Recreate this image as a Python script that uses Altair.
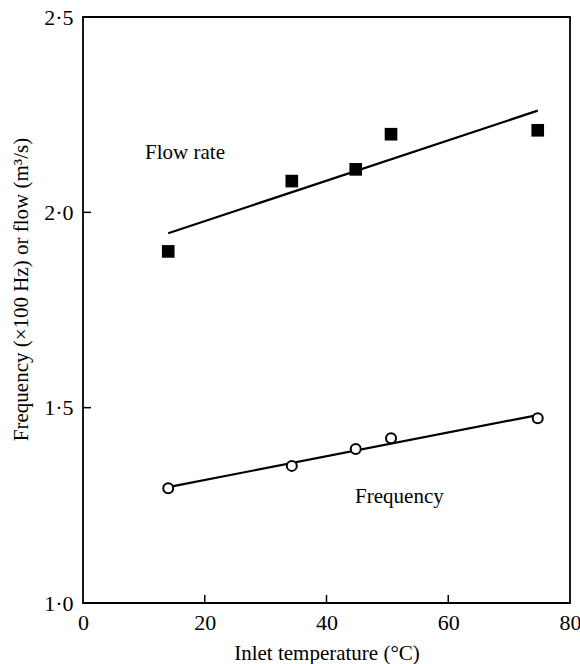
import altair as alt
import pandas as pd

# Data
temperature = [14.0, 34.3, 44.8, 50.6, 74.7]
flow_rate = [1.90, 2.08, 2.11, 2.20, 2.21]
frequency = [1.294, 1.351, 1.394, 1.422, 1.473]

x_ticks = [20, 40, 60]
y_ticks = [1.5, 2.0]

label_names = ["Flow rate", "Frequency"]
label_x = [10.2, 44.7]
label_y = [2.152, 1.271]

FONT = "Liberation Serif"

flow_df = pd.DataFrame({"t": temperature, "v": flow_rate})
freq_df = pd.DataFrame({"t": temperature, "v": frequency})
xt_df = pd.DataFrame({"t": x_ticks})
yt_df = pd.DataFrame({"v": y_ticks})
lab_df = pd.DataFrame({"name": label_names, "t": label_x, "v": label_y})

xscale = alt.Scale(domain=[0, 80], nice=False, zero=False)
yscale = alt.Scale(domain=[1.0, 2.5], nice=False, zero=False)

x_enc = alt.X(
    "t:Q",
    scale=xscale,
    axis=alt.Axis(
        title="Inlet temperature (°C)",
        values=[0, 20, 40, 60, 80],
        ticks=False,
        domain=False,
        grid=False,
        labelFont=FONT,
        labelFontSize=22,
        labelColor="black",
        labelPadding=9,
        titleFont=FONT,
        titleFontSize=21,
        titleFontWeight="normal",
        titleColor="black",
        titlePadding=9,
        labelFlush=False,
    ),
)
y_enc = alt.Y(
    "v:Q",
    scale=yscale,
    axis=alt.Axis(
        title="Frequency (×100 Hz) or flow (m³/s)",
        values=[1.0, 1.5, 2.0, 2.5],
        labelExpr="replace(format(datum.value, '.1f'), '.', '·')",
        ticks=False,
        domain=False,
        grid=False,
        labelFont=FONT,
        labelFontSize=22,
        labelColor="black",
        labelPadding=10,
        titleFont=FONT,
        titleFontSize=21,
        titleFontWeight="normal",
        titleColor="black",
        titlePadding=12,
        titleY=272,
        labelFlush=False,
    ),
)

flow_pts = alt.Chart(flow_df).mark_square(size=160, color="black", opacity=1).encode(x=x_enc, y=y_enc)
flow_line = (
    alt.Chart(flow_df)
    .transform_regression("t", "v")
    .mark_line(color="black", strokeWidth=2.2)
    .encode(x=alt.X("t:Q", scale=xscale), y=alt.Y("v:Q", scale=yscale))
)
freq_pts = alt.Chart(freq_df).mark_point(
    shape="circle", size=100, color="black", filled=False, strokeWidth=2, fill="white", fillOpacity=1
).encode(x=alt.X("t:Q", scale=xscale), y=alt.Y("v:Q", scale=yscale))
freq_line = (
    alt.Chart(freq_df)
    .transform_regression("t", "v")
    .mark_line(color="black", strokeWidth=2.2)
    .encode(x=alt.X("t:Q", scale=xscale), y=alt.Y("v:Q", scale=yscale))
)

x_tick_marks = alt.Chart(xt_df).mark_rule(color="black", strokeWidth=1.5).encode(
    x=alt.X("t:Q", scale=xscale), y=alt.value(586), y2=alt.value(578)
)
y_tick_marks = alt.Chart(yt_df).mark_rule(color="black", strokeWidth=1.5).encode(
    y=alt.Y("v:Q", scale=yscale), x=alt.value(0), x2=alt.value(8)
)

labels = alt.Chart(lab_df).mark_text(
    align="left", baseline="middle", font=FONT, fontSize=21, color="black"
).encode(x=alt.X("t:Q", scale=xscale), y=alt.Y("v:Q", scale=yscale), text="name:N")

chart = (
    alt.layer(flow_line, freq_line, flow_pts, freq_pts, x_tick_marks, y_tick_marks, labels)
    .properties(
        width=487,
        height=586,
        autosize=alt.AutoSizeParams(type="none"),
        padding={"left": 83, "top": 17, "right": 10, "bottom": 61},
        background="white",
    )
    .configure_view(stroke="black", strokeWidth=1.8)
)

chart.save("out.html", embed_options={"renderer": "svg", "actions": False})
